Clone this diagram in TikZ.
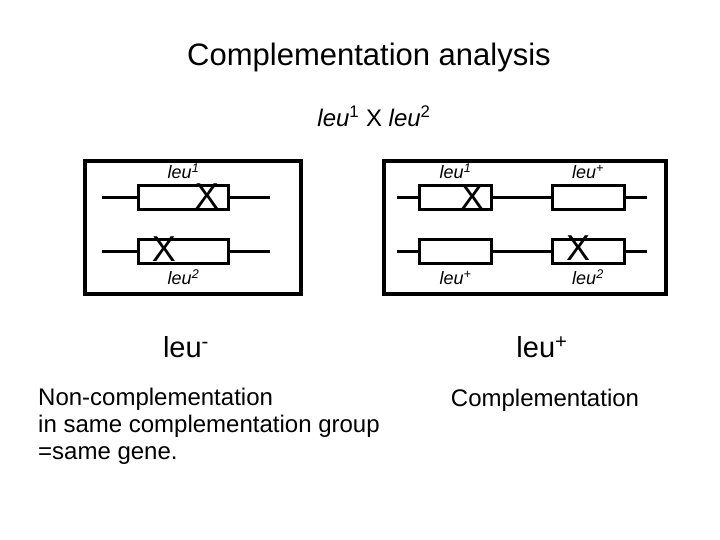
\documentclass[tikz,border=0pt]{standalone}
\usepackage{fontspec}
\setmainfont{Liberation Sans}
\usetikzlibrary{positioning}

\begin{document}
\begin{tikzpicture}[x=1pt,y=-1pt,node distance=7pt]
\tikzstyle{gene}=[draw,line width=3pt,minimum height=24pt,inner sep=0pt,outer sep=0pt]
\tikzstyle{chrom}=[line width=3pt]
\tikzstyle{frame}=[line width=3.3pt]
\tikzstyle{allele}=[inner sep=0pt,text height=13pt,text depth=0pt,font=\fontsize{18}{20}\selectfont\itshape]
\tikzstyle{cross}=[inner sep=0pt,font=\fontsize{36}{40}\selectfont]
\tikzstyle{body}=[inner sep=0pt,font=\fontsize{24}{27}\selectfont]
\tikzstyle{pheno}=[inner sep=0pt,font=\fontsize{29}{34}\selectfont]
\useasboundingbox (0,0) rectangle (720,540);
\node[inner sep=0pt,font=\fontsize{31}{36}\selectfont] (title) at (369,57) {Complementation analysis};
\node[body] (mating) at (374,116) {\textit{leu}\textsuperscript{1} X \textit{leu}\textsuperscript{2}};
% left: same gene
\draw[frame] (85,161) rectangle (301,294);
\node[gene,minimum width=90pt] (a1) at (183.5,197.5) {};
\node[gene,minimum width=90pt] (a2) at (183.5,251.5) {};
\coordinate (a1l) at (102,197.5);
\coordinate (a1r) at (270,197.5);
\coordinate (a2l) at (102,251.5);
\coordinate (a2r) at (270,251.5);
\draw[chrom] (a1l) -- (a1) (a1) -- (a1r);
\draw[chrom] (a2l) -- (a2) (a2) -- (a2r);
\node[allele,above=of a1] (a1lab) {leu\textsuperscript{1}};
\node[allele,below=8pt of a2] (a2lab) {leu\textsuperscript{2}};
\node[cross] (a1x) at (207,196) {X};
\node[cross] (a2x) at (164,249) {X};
% right: different genes
\draw[frame] (384,161) rectangle (666,294);
\node[gene,minimum width=72pt] (b1) at (455.5,197.5) {};
\node[gene,minimum width=72pt] (b2) at (588,197.5) {};
\node[gene,minimum width=72pt] (b3) at (455.5,251.5) {};
\node[gene,minimum width=72pt] (b4) at (588,251.5) {};
\coordinate (b1l) at (397,197.5);
\coordinate (b2r) at (647,197.5);
\coordinate (b3l) at (397,251.5);
\coordinate (b4r) at (647,251.5);
\draw[chrom] (b1l) -- (b1) (b1) -- (b2) (b2) -- (b2r);
\draw[chrom] (b3l) -- (b3) (b3) -- (b4) (b4) -- (b4r);
\node[allele,above=of b1] (b1lab) {leu\textsuperscript{1}};
\node[allele,above=of b2] (b2lab) {leu\textsuperscript{+}};
\node[allele,below=8pt of b3] (b3lab) {leu\textsuperscript{+}};
\node[allele,below=8pt of b4] (b4lab) {leu\textsuperscript{2}};
\node[cross] (b1x) at (472,197) {X};
\node[cross] (b4x) at (578,248) {X};
% outcomes
\node[pheno] (minus) at (186,347) {leu\textsuperscript{-}};
\node[pheno] (plus) at (542,347) {leu\textsuperscript{+}};
\node[body,align=left,anchor=west] (noncomp) at (38,426) {Non-complementation\\in same complementation group\\=same gene.};
\node[body] (comp) at (545,400) {Complementation};
\end{tikzpicture}
\end{document}
